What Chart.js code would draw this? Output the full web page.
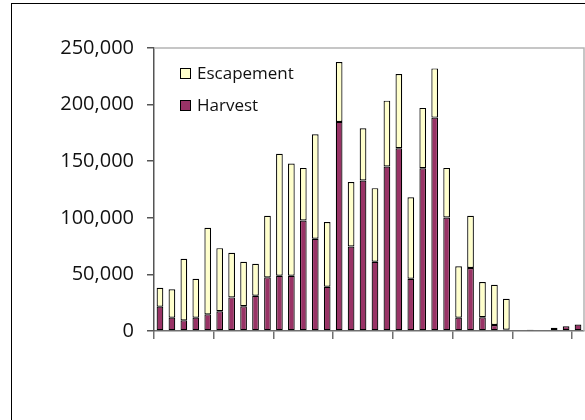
<!DOCTYPE html>
<html>
<head>
<meta charset="utf-8">
<script src="https://cdn.jsdelivr.net/npm/chart.js@4.4.1/dist/chart.umd.min.js"></script>
<style>
  html, body { margin: 0; padding: 0; background: #fff; overflow: hidden; }
  #wrap { position: relative; width: 585px; height: 420px; }
  #frame {
    position: absolute; left: 11px; top: 3px; width: 620px; height: 460px;
    border: 1.5px solid #000; box-sizing: border-box; pointer-events: none;
  }
  canvas { position: absolute; left: 0; top: 0; }
</style>
</head>
<body>
<div id="wrap">
  <div id="frame"></div>
  <canvas id="chart" width="585" height="420"></canvas>
</div>
<script>
// Run numbers, one entry per period (36 periods, labels not shown)
const periods = Array.from({ length: 36 }, (_, i) => String(i + 1))

const harvest = [
  21500, 11800, 9400, 11800, 14700, 17400, 29700, 21800, 31200, 47400,
  48800, 48800, 97600, 81500, 39100, 184700, 74700, 132900, 61200, 145300,
  161500, 46200, 143800, 188500, 100300, 11800, 55600, 12100, 5300, 1200,
  0, 1200, 0, 2800, 4100, 5700,
]

const escapement = [
  16700, 25000, 54400, 34400, 76500, 55800, 39400, 39400, 28200, 54400,
  107700, 99100, 46500, 92300, 57100, 52900, 56900, 46200, 65000, 58200,
  65500, 72000, 53300, 43500, 43800, 45300, 46200, 31100, 35600, 27300,
  0, 0, 0, 0, 0, 0,
]

const yTicks = [0, 50000, 100000, 150000, 200000, 250000]

const FONT = "'Open Sans', 'DejaVu Sans', sans-serif"

// Plot area outline (top and right edges) plus the boxed legend
const framePlugin = {
  id: "frame",
  beforeDatasetsDraw(chart) {
    const { ctx, chartArea: a } = chart
    ctx.save()
    ctx.strokeStyle = "#b4b4b4"
    ctx.lineWidth = 1.5
    ctx.beginPath()
    ctx.moveTo(a.left, a.top)
    ctx.lineTo(a.right, a.top)
    ctx.lineTo(a.right, a.bottom)
    ctx.stroke()
    ctx.restore()
  },
  afterDraw(chart) {
    const { ctx } = chart
    const items = [chart.data.datasets[1], chart.data.datasets[0]]
    ctx.save()
    ctx.font = "17px " + FONT
    ctx.textBaseline = "middle"
    items.forEach((ds, i) => {
      const y = 74 + i * 32
      ctx.fillStyle = ds.backgroundColor
      ctx.fillRect(180.5, y - 5.5, 10, 10)
      ctx.strokeStyle = "#000"
      ctx.lineWidth = 1
      ctx.strokeRect(180.5, y - 5.5, 10, 10)
      ctx.fillStyle = "#111"
      ctx.fillText(ds.label, 197, y)
    })
    ctx.restore()
  },
}

new Chart(document.getElementById("chart"), {
  type: "bar",
  data: {
    labels: periods,
    datasets: [
      {
        label: "Harvest",
        data: harvest,
        backgroundColor: "#993366",
        borderColor: "#000",
        borderWidth: 1.2,
        borderSkipped: false,
      },
      {
        label: "Escapement",
        data: escapement,
        backgroundColor: "#ffffcc",
        borderColor: "#000",
        borderWidth: 1.2,
        borderSkipped: false,
      },
    ],
  },
  options: {
    responsive: false,
    animation: false,
    layout: { padding: { top: 48, right: 1, left: 0, bottom: 0 } },
    datasets: {
      bar: { categoryPercentage: 1, barPercentage: 0.56 },
    },
    plugins: {
      legend: { display: false },
      tooltip: { enabled: false },
    },
    scales: {
      x: {
        stacked: true,
        offset: true,
        afterFit(scale) {
          scale.height = 89
        },
        border: { color: "#707070", width: 1.5 },
        grid: {
          offset: true,
          drawOnChartArea: false,
          tickLength: 8,
          lineWidth: 1.5,
          color: (c) => (c.index !== undefined && c.index % 5 === 0 ? "#707070" : "transparent"),
        },
        ticks: { display: false },
      },
      y: {
        stacked: true,
        min: 0,
        max: 250000,
        afterFit(scale) {
          scale.width = 154
        },
        afterBuildTicks(scale) {
          scale.ticks = yTicks.map((v) => ({ value: v }))
        },
        border: { color: "#555", width: 1.5 },
        grid: {
          drawOnChartArea: false,
          tickLength: 7,
          color: "#555",
          lineWidth: 1.5,
        },
        ticks: {
          color: "#111",
          padding: 13,
          font: { family: FONT, size: 20 },
          callback: (v) => v.toLocaleString("en-US"),
        },
      },
    },
  },
  plugins: [framePlugin],
})
</script>
</body>
</html>
